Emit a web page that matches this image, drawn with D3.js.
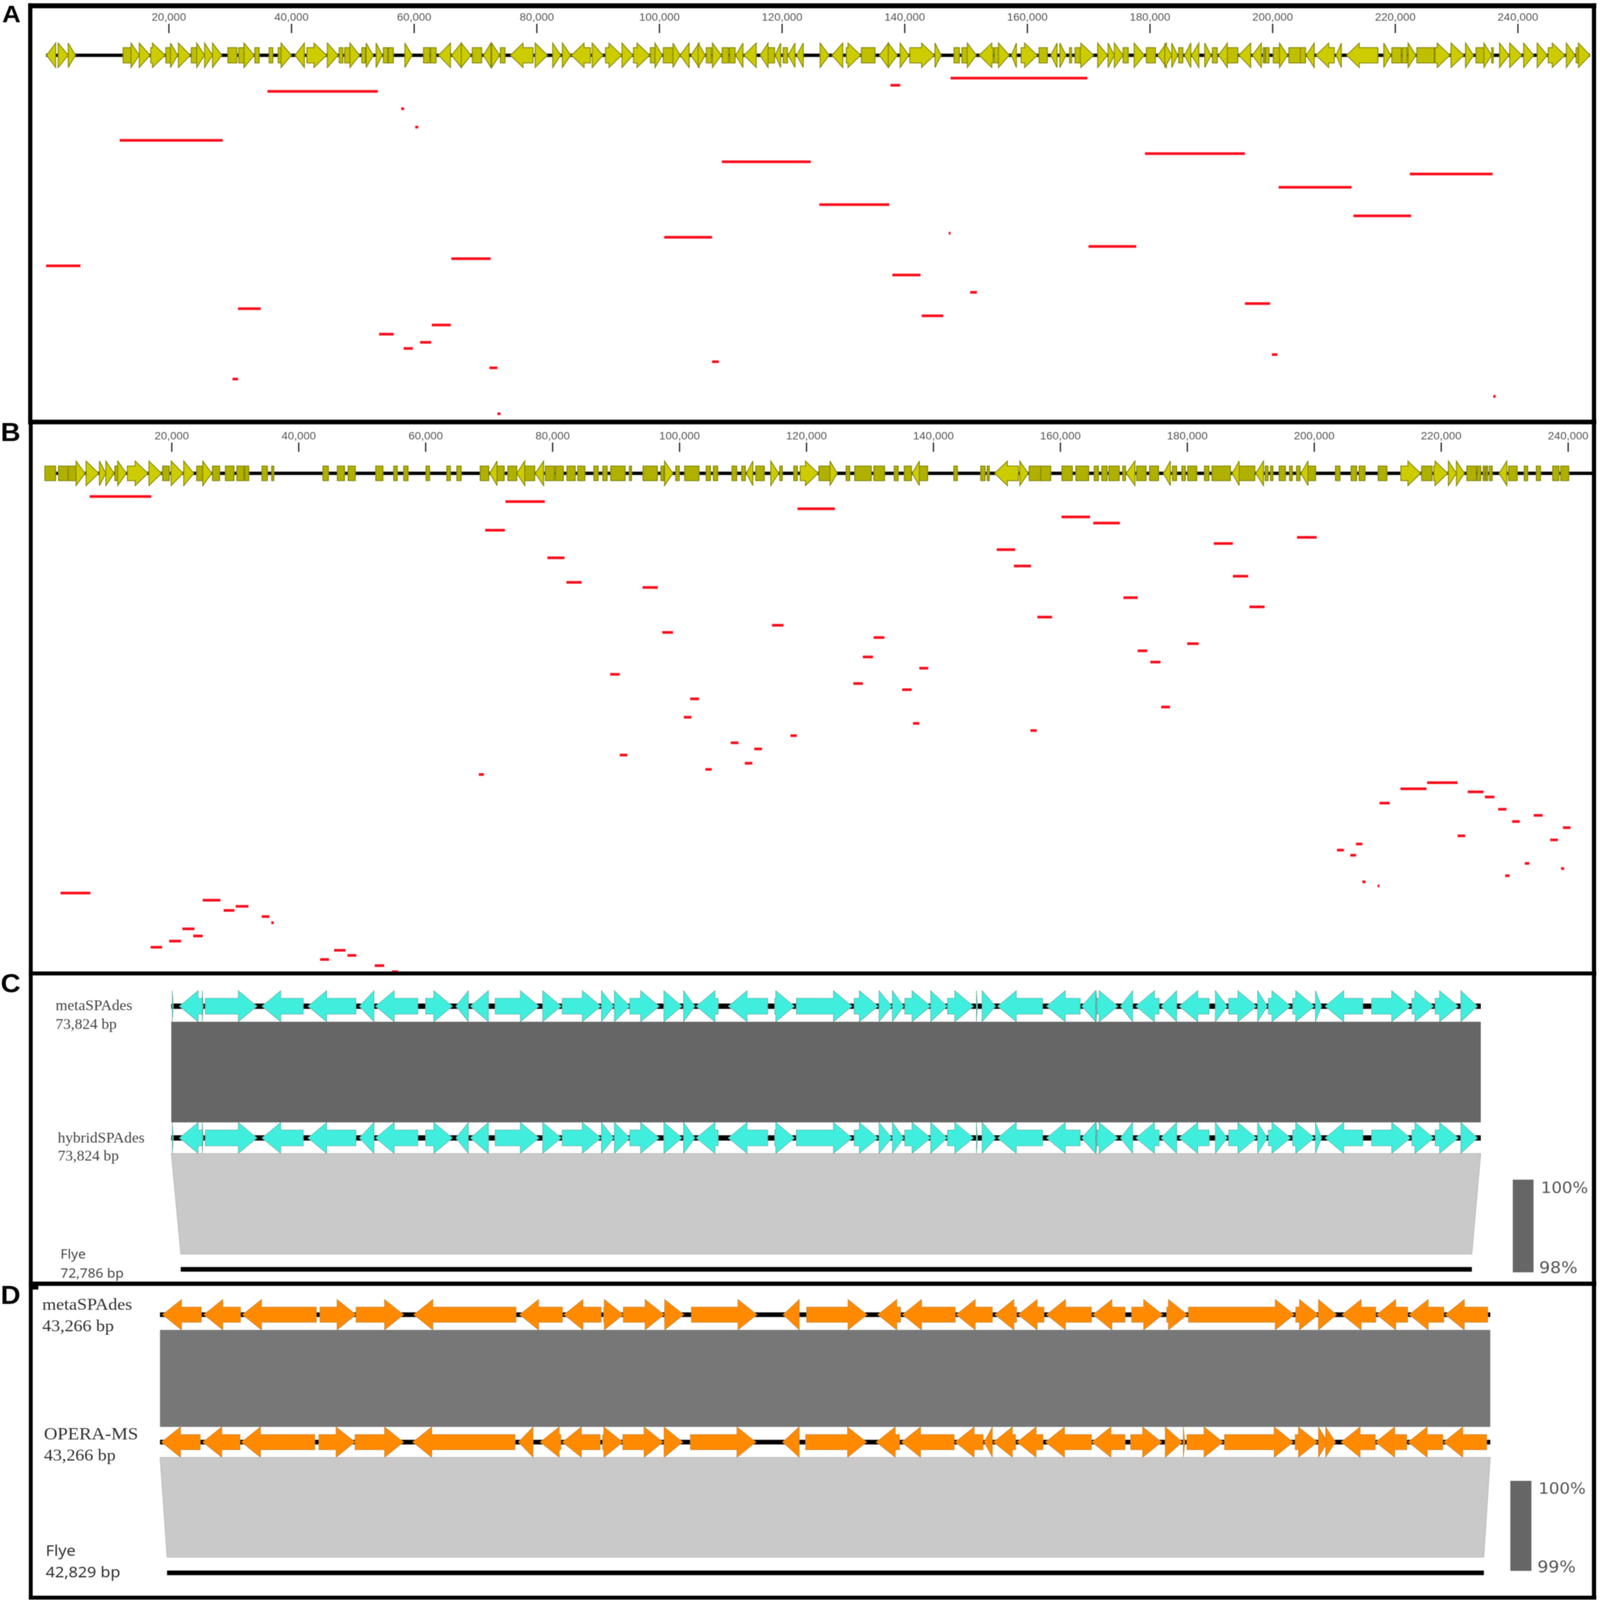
<!DOCTYPE html>
<html>
<head>
<meta charset="utf-8">
<title>Genome alignments</title>
<script src="https://cdn.jsdelivr.net/npm/d3@7"></script>
<style>
  html, body { margin: 0; padding: 0; background: #fff; width: 100%; height: 100%; overflow: hidden; }
  svg { display: block; width: 100vw; height: 100vh; }
</style>
</head>
<body>
<div id="chart"></div>
<script>
// tick labels of the two reference tracks
const trackTicks = [20000, 40000, 60000, 80000, 100000, 120000, 140000, 160000, 180000, 200000, 220000, 240000];

// genes are [start, end, strand], strand 0 is a short gene drawn as a plain box
const panelAGenes = [
  [95,1560,-1],[1970,3610,1],[3610,4780,1],[12560,13850,0],[13850,15200,1],[15200,16950,1],[17070,19410,1],
  [19530,20400,0],[20290,21460,1],[21580,23510,1],[23680,24560,0],[24560,25850,1],[25850,27140,1],[27140,28660,1],
  [29650,31120,0],[31410,32580,0],[32290,33930,1],[34040,34750,0],[36380,36970,0],[37850,38430,0],[38320,40010,1],
  [40600,42120,-1],[42530,45750,1],[45870,47620,1],[47800,48380,0],[48680,49550,0],[49550,51130,1],[51480,52070,0],
  [52190,53360,1],[53820,54820,1],[55000,55700,0],[55820,56630,0],[58510,59680,1],[61550,62550,0],[62720,63600,0],
  [64010,65940,-1],[66120,67700,-1],[67700,69280,1],[69510,71030,0],[71330,72550,-1],[72670,73960,1],[74080,74840,0],
  [75720,79410,-1],[79760,81750,1],[82620,83910,1],[84200,85550,1],[85670,88770,-1],[89060,90820,1],[91230,93860,1],
  [93920,95680,1],[95790,98430,1],[98540,99480,0],[99300,100480,1],[100650,102230,0],[102230,103400,1],[103400,104870,-1],
  [105160,106500,-1],[106330,107500,1],[107670,108490,0],[108670,110130,1],[110250,111300,0],[111480,112360,0],
  [112470,113640,-1],[113820,115810,-1],[116450,117740,-1],[117740,118800,0],[118910,119790,-1],[120200,120900,0],
  [121020,122130,-1],[122420,123480,-1],[126230,127690,1],[128160,129920,-1],[130500,132840,1],[132960,135180,0],
  [135890,137350,-1],[137350,138810,1],[139280,140690,1],[140860,144840,1],[144960,145950,1],[148060,148940,0],
  [149350,150230,0],[150230,151690,1],[152160,154440,-1],[154620,155320,0],[155320,157070,1],[157420,158240,-1],
  [159010,161640,1],[161930,163280,0],[163860,164860,-1],[165330,166320,1],[166900,167240,0],[167800,168650,0],
  [168650,170810,1],[171490,173080,1],[173190,174210,1],[174210,175630,1],[175630,176480,0],[177440,179090,1],
  [179430,180900,0],[181300,182710,-1],[182430,183570,1],[183570,184530,1],[184700,185380,0],[185660,186680,-1],
  [186800,187990,-1],[188950,189970,1],[190200,190990,0],[191220,192640,-1],[192640,194340,0],[194510,196440,-1],
  [196720,198190,-1],[198480,198760,0],[198870,199440,0],[200120,201140,0],[201140,202450,1],[202670,204540,0],
  [204540,205390,0],[205510,206810,-1],[207100,210100,-1],[210380,211230,-1],[212090,217190,-1],[218150,219290,1],
  [219460,220990,0],[221160,221950,0],[222120,223370,1],[223540,226370,0],[226490,228930,1],[229100,231190,1],
  [231480,232780,1],[233180,234600,0],[234480,235730,1],[235730,236010,0],[237030,238560,1],[238680,240660,1],
  [240950,242590,1],[243160,244800,1],[244970,247690,1],[247920,249340,1],[249510,249900,0],[249900,251780,1]
];

const panelBGenes = [
  [30,1730,0],[2180,3710,0],[3710,4950,0],[4950,6360,1],[6530,8510,1],[8630,9640,1],[9640,10940,1],[11060,11620,0],
  [11510,12870,1],[13040,16260,1],[16430,18410,1],[18580,19650,0],[19930,21800,1],[21910,23500,1],[23950,24910,0],
  [24910,26320,1],[26440,27570,0],[28470,29830,0],[30280,31410,0],[31520,32150,0],[34240,35090,0],[35770,36100,0],
  [43850,44700,0],[46110,47240,0],[47810,48940,0],[52160,53290,0],[54990,55550,0],[56570,57250,0],[60080,60640,0],
  [63360,63920,0],[64940,65620,0],[68620,69970,0],[70140,71270,-1],[71270,72400,0],[72970,74380,0],[74380,75630,-1],
  [75630,77210,0],[77310,78610,-1],[78890,80310,0],[80480,81720,0],[82290,83590,0],[83980,85110,0],[86530,87200,0],
  [87940,88620,0],[89180,91450,0],[92120,92460,0],[94270,96530,0],[97100,97550,0],[97660,98970,1],[99420,99980,0],
  [100830,103090,0],[104220,104900,0],[105350,106030,0],[108290,109030,0],[109820,110390,0],[110560,111570,-1],
  [112030,113380,0],[114400,115640,1],[115810,116210,0],[118020,118580,0],[119040,121860,1],[121980,123840,0],
  [123730,124860,1],[126270,126840,0],[127630,130230,0],[130630,132330,0],[133850,134470,0],[135430,136560,0],
  [136680,137810,-1],[137810,139110,0],[143240,143800,0],[147480,148160,0],[148490,148830,0],[149680,153410,-1],
  [153640,154940,1],[155110,156920,0],[156920,158500,0],[160270,161910,0],[162460,164480,0],[165360,166020,0],
  [166560,167380,0],[167660,169300,0],[169850,170290,0],[170400,171770,-1],[172040,173520,0],[174070,175490,0],
  [176260,177350,-1],[177680,178340,0],[179160,179710,0],[180090,181510,0],[182720,183430,0],[183920,186820,0],
  [187100,188190,-1],[188190,190660,0],[190820,192030,-1],[192300,192740,0],[193120,193510,0],[194490,195480,0],
  [196130,196570,0],[197230,197780,0],[197940,199040,-1],[199040,200240,0],[203360,204070,0],[205830,206700,0],
  [207090,208020,0],[210100,211470,0],[213660,216780,1],[216940,218590,0],[218860,221050,1],[221160,222420,1],
  [222420,223680,1],[224060,225540,0],[225700,226250,0],[226630,226910,0],[227070,227350,0],[227620,228060,0],
  [229150,230360,-1],[230630,232000,0],[233100,233640,0],[235010,235670,0],[237590,238570,0],[238850,240110,0]
];

// reads are [start, end, lane], lanes run down from the gene track
const panelAReads = [
  [147500,169800,0],[137700,139300,7],[36100,54100,13],[57900,58400,30],[60200,60700,48],[12000,28800,61],
  [179200,195500,74],[110200,124700,82],[222400,235900,94],[201000,212900,107],[126100,137500,124],[213200,222600,135],
  [147200,147500,152],[100800,108600,156],[170000,177800,165],[66100,72500,177],[0,5600,184],[138000,142600,193],
  [150700,151800,210],[195500,199600,221],[31300,35000,226],[142800,146300,233],[62900,66000,242],[54300,56700,251],
  [61000,62800,259],[58300,59800,265],[199900,200800,271],[108600,109700,278],[72300,73600,284],[30400,31300,295],
  [236000,236400,312],[73600,74100,329]
];

const panelBReads = [
  [7100,16800,0],[72600,78800,5],[118600,124500,12],[160200,164700,20],[165200,169400,26],[69400,72500,33],
  [197300,200400,40],[184200,187200,46],[150000,152900,52],[79200,81900,60],[152700,155400,68],
  [187200,189600,78],[82200,84600,84],[94200,96600,89],[169960,172200,99],[189800,192200,108],[156400,158700,118],
  [114600,116400,126],[97300,99000,133],[130600,132300,138],[180000,181800,144],[172200,173700,151],[128900,130500,157],
  [174200,175800,162],[137800,139200,168],[89100,90600,174],[127400,128900,183],[135100,136600,189],[101700,103100,198],
  [175900,177300,206],[100700,101900,216],[136800,137800,222],[155300,156300,229],[117500,118500,234],[108100,109300,241],
  [111800,113000,247],[90600,91800,253],[110300,111500,261],[104100,105100,267],[68400,69200,272],[217800,222600,280],
  [213600,217700,286],[224200,226700,289],[226900,228400,294],[210300,211900,300],[229000,230300,306],[234600,236000,312],
  [231200,232400,318],[239200,240400,324],[222600,223800,332],[237200,238400,336],[206600,207600,340],[203600,204700,346],
  [205700,206600,351],[233200,233900,359],[238900,239400,364],[230100,230800,371],[207600,208100,377],[210000,210300,381],
  [2500,7200,388],[24900,27700,395],[30100,32100,401],[28200,29900,405],[34200,35400,411],[35700,36100,417],
  [21700,23600,423],[23400,24900,430],[19600,21500,435],[16700,18500,441],[45600,47400,444],[47700,49100,449],
  [43400,44800,453],[52000,53500,459],[54700,55700,465]
];

// panel C, metaSPAdes and hybridSPAdes carry the same genes
const panelCGenes = [
  [58,116,1],[465,1745,-1],[1745,1803,1],[1920,4830,1],[5120,7440,-1],[7710,10410,-1],[10610,11430,-1],[11520,13900,-1],
  [14340,15850,1],[16050,16750,-1],[16870,17880,-1],[18260,20730,1],[20940,21980,1],[22040,24220,1],[24250,24950,1],
  [24980,25850,1],[25850,27510,1],[27770,28790,1],[28880,29520,1],[29600,30830,-1],[31410,33620,-1],[34020,35130,1],
  [35240,38380,1],[38500,39840,1],[39900,40620,1],[40650,41290,1],[41350,42810,1],[42810,43740,1],[43760,45220,1],
  [45390,45450,1],[45710,46470,1],[46590,49120,-1],[49350,51240,-1],[51330,52110,-1],[52140,52200,1],[52200,53360,1],
  [53510,54200,-1],[54380,55690,-1],[55800,56680,-1],[56820,58510,-1],[58860,59530,1],[59610,61180,1],[61240,61790,1],
  [61850,63100,1],[63220,64440,1],[64500,64850,1],[65050,67170,-1],[67670,69850,1],[69940,71160,1],[71250,72550,1],
  [72700,73630,1]
];

const panelDMetaGenes = [
  [84,1342,-1],[1426,2618,-1],[2685,5084,-1],[5202,6376,1],[6376,7920,1],[8256,11578,-1],[11696,13088,-1],[13139,14347,-1],
  [14431,15068,1],[15068,16394,1],[16411,17032,1],[17283,19414,1],[20270,20790,-1],[21031,22995,1],[23347,24085,-1],
  [24152,25864,-1],[25898,27072,-1],[27156,27861,-1],[27911,28750,-1],[28834,30294,-1],[30344,31385,-1],[31603,32610,1],
  [32744,33415,1],[33449,36889,1],[36939,37677,1],[37677,38265,1],[38449,39540,-1],[39573,40580,-1],[40630,41755,-1],
  [41805,43181,-1]
];

const panelDOperaGenes = [
  [50,1309,-1],[1393,2601,-1],[2651,5034,-1],[5168,6343,1],[6343,7920,1],[8222,11545,-1],[11662,12132,-1],[12367,13038,-1],
  [13088,14313,-1],[14397,15052,1],[15052,16361,1],[16394,16998,1],[17250,19381,1],[20253,20790,-1],[20998,22978,1],
  [23297,24052,-1],[24119,25830,-1],[25864,26770,-1],[26804,27072,-1],[27106,27827,-1],[27878,28717,-1],[28801,30294,-1],
  [30311,31385,-1],[31569,32576,1],[32694,33247,1],[33281,33331,1],[33399,34573,1],[34623,36855,1],[36922,37644,1],
  [37677,37980,1],[37912,38231,1],[38416,39523,-1],[39540,40547,-1],[40597,41721,-1],[41755,43148,-1]
];

const panelCLength = 73824;
const panelCFlye = [535, 73321];
const panelDLength = 43266;
const panelDFlye = [229, 43058];

const legendCLabels = ["100%", "98%"];
const legendDLabels = ["100%", "99%"];

const width = 4550, height = 4834;
// viewBox so the whole figure stays on the page whatever size the window ends up
const svg = d3.select("#chart").append("svg")
  .attr("viewBox", "0 0 " + width + " " + height)
  .attr("preserveAspectRatio", "none");

svg.append("rect").attr("width", width).attr("height", height).attr("fill", "#fff");

// the reference is a soft raster, a small blur brings the edges close to it
svg.append("defs").append("filter").attr("id", "soft")
  .attr("x", 0).attr("y", 0).attr("width", 1).attr("height", 1)
  .append("feGaussianBlur").attr("stdDeviation", 1.2);

const root = svg.append("g").attr("filter", "url(#soft)");

const lineGen = d3.line();

// outline of one gene in pixels, arrow head capped at headMax
function genePath(gene, x, cy, st) {
  const x0 = x(gene[0]), x1 = x(gene[1]), s = gene[2];
  if (s === 0) {
    return lineGen([[x0, cy - st.body], [x1, cy - st.body], [x1, cy + st.body], [x0, cy + st.body]]) + "Z";
  }
  const len = x1 - x0;
  const head = Math.min(len, st.headMax);
  if (s > 0) {
    return lineGen([[x0, cy - st.body], [x1 - head, cy - st.body], [x1 - head, cy - st.head], [x1, cy],
      [x1 - head, cy + st.head], [x1 - head, cy + st.body], [x0, cy + st.body]]) + "Z";
  }
  return lineGen([[x1, cy - st.body], [x0 + head, cy - st.body], [x0 + head, cy - st.head], [x0, cy],
    [x0 + head, cy + st.head], [x0 + head, cy + st.body], [x1, cy + st.body]]) + "Z";
}

function drawTrack(genes, x, cy, st, from, to) {
  const g = root.append("g");
  g.append("rect")
    .attr("x", x(from)).attr("y", cy - st.line / 2)
    .attr("width", x(to) - x(from)).attr("height", st.line)
    .attr("fill", "#000");
  g.selectAll("path").data(genes).enter().append("path")
    .attr("d", d => genePath(d, x, cy, st))
    .attr("fill", d => d[2] === 0 ? st.boxFill : st.fill)
    .attr("stroke", st.stroke)
    .attr("stroke-width", st.strokeWidth);
}

function drawAxis(x, y) {
  const axis = d3.axisTop(x)
    .tickValues(trackTicks)
    .tickFormat(d3.format(","))
    .tickSize(28)
    .tickPadding(9);
  const g = root.append("g").attr("transform", "translate(0," + y + ")").call(axis);
  g.select(".domain").remove();
  g.selectAll(".tick line").attr("stroke", "#222").attr("stroke-width", 3.5);
  g.selectAll(".tick text")
    .attr("fill", "#555")
    .attr("font-family", "'Liberation Sans', Arial, sans-serif")
    .attr("font-size", 32);
}

function drawReads(reads, x, y) {
  root.append("g").selectAll("rect").data(reads).enter().append("rect")
    .attr("x", d => x(d[0]))
    .attr("y", d => y(d[2]) - 4)
    .attr("width", d => Math.max(x(d[1]) - x(d[0]), 5))
    .attr("height", 8)
    .attr("fill", "#fa0f1e");
}

function label(txt, x, y, size, family, color, weight) {
  root.append("text")
    .attr("x", x).attr("y", y)
    .attr("font-family", family)
    .attr("font-size", size)
    .attr("font-weight", weight || "normal")
    .attr("fill", color)
    .text(txt);
}

const serif = "'Liberation Serif', 'Times New Roman', serif";
const sans = "'Noto Sans', sans-serif";
const arial = "'Liberation Sans', Arial, sans-serif";
const dejavu = "'DejaVu Sans', sans-serif";

// panel A
const xA = d3.scaleLinear().domain([0, 250000]).range([131, 4490.5]);
const laneA = d3.scaleLinear().domain([0, 329]).range([236, 1250]);
const yellowStyle = { head: 37, body: 23, line: 10, headMax: 36, fill: "#cccc00", boxFill: "#bfbf00", stroke: "#7f7f00", strokeWidth: 2.5 };
drawAxis(xA, 100);
drawTrack(panelAGenes, xA, 167, yellowStyle, 0, 251780);
drawReads(panelAReads, xA, laneA);

// panel B
const xB = d3.scaleLinear().domain([0, 240000]).range([127, 4459]);
const laneB = d3.scaleLinear().domain([0, 466]).range([1500, 2939]);
const yellowBoxStyle = Object.assign({}, yellowStyle, { body: 22, boxFill: "#b0b000" });
drawAxis(xB, 1365);
drawTrack(panelBGenes, xB, 1430, yellowBoxStyle, 0, 243900);
drawReads(panelBReads, xB, laneB);

// comparison panels share one drawing routine
function drawComparison(p) {
  const x = p.x;
  drawTrack(p.topGenes, x, p.topY, p.style, 0, p.length);
  drawTrack(p.midGenes, x, p.midY, p.style, 0, p.length);
  root.append("rect")
    .attr("x", x(0)).attr("y", p.topY + p.style.head)
    .attr("width", x(p.length) - x(0)).attr("height", p.midY - p.style.head - p.topY - p.style.head)
    .attr("fill", p.bandFill);
  root.append("path")
    .attr("d", lineGen([[x(0), p.midY + p.style.head], [x(p.length), p.midY + p.style.head],
      [x(p.flye[1]), p.lightEnd], [x(p.flye[0]), p.lightEnd]]) + "Z")
    .attr("fill", "#c9c9c9")
    .attr("stroke", "#aeaeae")
    .attr("stroke-width", 1.5);
  root.append("rect")
    .attr("x", x(p.flye[0])).attr("y", p.flyeY - 7)
    .attr("width", x(p.flye[1]) - x(p.flye[0])).attr("height", 14)
    .attr("fill", "#000");
}

// panel C
const xC = d3.scaleLinear().domain([0, panelCLength]).range([487, 4211]);
drawComparison({
  x: xC, length: panelCLength, flye: panelCFlye,
  topGenes: panelCGenes, midGenes: panelCGenes,
  topY: 3040, midY: 3438, lightEnd: 3789, flyeY: 3835,
  bandFill: "#666",
  style: { head: 47, body: 24, line: 16, headMax: 53, fill: "#40eedd", boxFill: "#40eedd", stroke: "#5f9f98", strokeWidth: 1.5 }
});
label("metaSPAdes", 158, 3052, 43.5, serif, "#444");
label("73,824 bp", 158, 3108, 43.5, serif, "#444");
label("hybridSPAdes", 164, 3452, 43.5, serif, "#444");
label("73,824 bp", 164, 3506, 43.5, serif, "#444");
label("Flye", 172, 3803, 39, sans, "#444");
label("72,786 bp", 172, 3860, 39, sans, "#444");

// panel D
const xD = d3.scaleLinear().domain([0, panelDLength]).range([455, 4238]);
drawComparison({
  x: xD, length: panelDLength, flye: panelDFlye,
  topGenes: panelDMetaGenes, midGenes: panelDOperaGenes,
  topY: 3972, midY: 4357, lightEnd: 4705, flyeY: 4752,
  bandFill: "#777",
  style: { head: 46, body: 23, line: 14, headMax: 54, fill: "#ff8a05", boxFill: "#ff8a05", stroke: "#b9802f", strokeWidth: 1.5 }
});
label("metaSPAdes", 120, 3957, 51, serif, "#333");
label("43,266 bp", 120, 4022, 51, serif, "#333");
label("OPERA-MS", 125, 4349, 53, serif, "#333");
label("43,266 bp", 125, 4413, 51, serif, "#333");
label("Flye", 130, 4701, 46, sans, "#333");
label("42,829 bp", 130, 4766, 46, sans, "#333");

// identity legends
root.append("rect").attr("x", 4302).attr("y", 3564).attr("width", 59).attr("height", 280).attr("fill", "#666");
root.append("rect").attr("x", 4295).attr("y", 4474).attr("width", 60).attr("height", 272).attr("fill", "#666");
label(legendCLabels[0], 4382, 3604, 47, dejavu, "#555");
label(legendCLabels[1], 4377, 3846, 49, dejavu, "#555");
label(legendDLabels[0], 4375, 4513, 47, dejavu, "#555");
label(legendDLabels[1], 4372, 4750, 49, dejavu, "#555");

// panel frames go last so they sit on top of clipped reads
const frames = root.append("g").attr("fill", "#000");
frames.append("rect").attr("x", 80).attr("y", 10).attr("width", 4460).attr("height", 15);
frames.append("rect").attr("x", 80).attr("y", 1268).attr("width", 4460).attr("height", 14);
frames.append("rect").attr("x", 82).attr("y", 2935).attr("width", 4458).attr("height", 12);
frames.append("rect").attr("x", 82).attr("y", 3872).attr("width", 4458).attr("height", 13);
frames.append("rect").attr("x", 82).attr("y", 4821).attr("width", 4458).attr("height", 12);
frames.append("rect").attr("x", 80).attr("y", 10).attr("width", 12).attr("height", 1272);
frames.append("rect").attr("x", 82).attr("y", 1268).attr("width", 11).attr("height", 3565);
frames.append("rect").attr("x", 86).attr("y", 3880).attr("width", 23).attr("height", 16);
frames.append("rect").attr("x", 4527).attr("y", 10).attr("width", 12).attr("height", 4823);

// panel letters, A is a little smaller so its box stays on the page
label("A", 6, 67, 73, arial, "#000", "bold");
label("B", 2, 1333, 78, arial, "#000", "bold");
label("C", 2, 2998, 78, arial, "#000", "bold");
label("D", 2, 3940, 78, arial, "#000", "bold");
</script>
</body>
</html>
